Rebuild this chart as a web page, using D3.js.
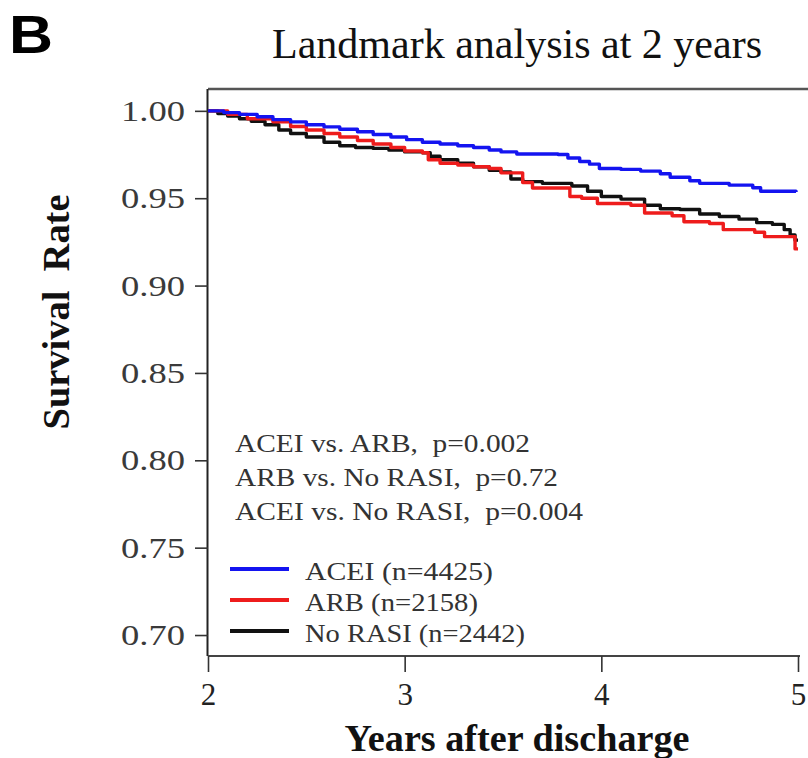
<!DOCTYPE html>
<html>
<head>
<meta charset="utf-8">
<script src="https://cdn.jsdelivr.net/npm/d3@7"></script>
<style>
  html, body { margin: 0; padding: 0; background: #fff; }
  svg { display: block; }
</style>
</head>
<body>
<svg id="chart" width="808" height="758"></svg>
<script>
// Kaplan–Meier estimates after the 2-year landmark: [years after discharge, survival]
const acei = [
  [2.00, 1.000], [2.08, 0.999], [2.16, 0.998], [2.25, 0.9966], [2.33, 0.995], [2.42, 0.9937],
  [2.50, 0.992], [2.59, 0.9908], [2.67, 0.9895], [2.76, 0.988], [2.84, 0.9865], [2.93, 0.985],
  [3.01, 0.9835], [3.09, 0.982], [3.18, 0.981], [3.27, 0.980], [3.35, 0.979], [3.43, 0.9776],
  [3.49, 0.9765], [3.57, 0.9753], [3.78, 0.9750], [3.83, 0.9730], [3.89, 0.9710], [3.94, 0.9695],
  [3.99, 0.9670], [4.10, 0.9665], [4.20, 0.9655], [4.30, 0.9640], [4.35, 0.9620], [4.45, 0.9600],
  [4.50, 0.9585], [4.65, 0.9575], [4.77, 0.9560], [4.81, 0.9540], [4.99, 0.9535]
];
const arb = [
  [2.00, 1.000], [2.10, 0.998], [2.20, 0.9955], [2.33, 0.9937], [2.42, 0.991], [2.50, 0.989],
  [2.59, 0.987], [2.67, 0.985], [2.76, 0.983], [2.84, 0.981], [2.93, 0.979], [3.00, 0.977],
  [3.09, 0.976], [3.12, 0.972], [3.18, 0.970], [3.27, 0.969], [3.35, 0.968], [3.43, 0.967],
  [3.49, 0.9645], [3.60, 0.959], [3.65, 0.9558], [3.80, 0.9558], [3.84, 0.951], [3.90, 0.950],
  [3.98, 0.947], [4.15, 0.946], [4.22, 0.9415], [4.36, 0.940], [4.42, 0.9365], [4.55, 0.9355],
  [4.62, 0.932], [4.78, 0.9305], [4.83, 0.928], [4.98, 0.928], [4.985, 0.921], [5.00, 0.921]
];
const noRasi = [
  [2.00, 1.000], [2.05, 0.9985], [2.10, 0.997], [2.16, 0.9955], [2.22, 0.994], [2.29, 0.992],
  [2.36, 0.989], [2.42, 0.987], [2.50, 0.985], [2.59, 0.982], [2.67, 0.980], [2.75, 0.979],
  [2.84, 0.9785], [2.92, 0.9775], [3.00, 0.9765], [3.09, 0.976], [3.13, 0.974], [3.18, 0.972],
  [3.27, 0.970], [3.35, 0.968], [3.43, 0.966], [3.49, 0.965], [3.54, 0.961], [3.60, 0.9595],
  [3.70, 0.9585], [3.80, 0.9585], [3.85, 0.957], [3.93, 0.954], [4.00, 0.951], [4.10, 0.9495],
  [4.22, 0.946], [4.30, 0.944], [4.40, 0.9435], [4.50, 0.941], [4.60, 0.9395], [4.70, 0.938],
  [4.79, 0.936], [4.87, 0.935], [4.93, 0.932], [4.96, 0.929], [4.985, 0.926], [5.00, 0.926]
];

const seriesNames = ["ACEI (n=4425)", "ARB (n=2158)", "No RASI (n=2442)"];
const seriesColors = ["#1414f0", "#ee1c1c", "#111111"];
const xTicks = [2, 3, 4, 5];
const yTicks = [0.70, 0.75, 0.80, 0.85, 0.90, 0.95, 1.00];
const pValueLines = [
  "ACEI vs. ARB,  p=0.002",
  "ARB vs. No RASI,  p=0.72",
  "ACEI vs. No RASI,  p=0.004"
];

const svg = d3.select("#chart");
const serif = "'Liberation Serif', 'Times New Roman', serif";

// Plot frame
const plotLeft = 208, plotRight = 798, plotTop = 89, plotBottom = 656;
const x = d3.scaleLinear().domain([2, 5]).range([plotLeft, plotRight]);
const y = d3.scaleLinear().domain([0.688, 1.0125]).range([plotBottom, plotTop]);

// Panel letter and title
svg.append("text").attr("x", 9).attr("y", 53)
  .attr("font-family", "'Liberation Sans', Arial, sans-serif")
  .attr("font-weight", "bold").attr("font-size", 53).attr("fill", "#000")
  .attr("textLength", 44).attr("lengthAdjust", "spacingAndGlyphs")
  .text("B");

svg.append("text").attr("x", 272).attr("y", 58)
  .attr("font-family", serif).attr("font-size", 43).attr("fill", "#111")
  .attr("textLength", 490).attr("lengthAdjust", "spacingAndGlyphs")
  .text("Landmark analysis at 2 years");

// Top border of the box
svg.append("line").attr("x1", plotLeft).attr("x2", 808).attr("y1", plotTop).attr("y2", plotTop)
  .attr("stroke", "#555").attr("stroke-width", 2.5);

// Y axis
const yAxis = d3.axisLeft(y).tickValues(yTicks).tickSize(13).tickPadding(10)
  .tickFormat(d3.format(".2f"));
const gy = svg.append("g").attr("transform", `translate(${plotLeft},0)`).call(yAxis);
gy.select(".domain").attr("d", `M-0.5,${plotTop}V${plotBottom}`).attr("stroke", "#222").attr("stroke-width", 2);
gy.selectAll(".tick line").attr("stroke", "#333").attr("stroke-width", 1.6);
gy.selectAll(".tick text")
  .attr("font-family", serif).attr("font-size", 30).attr("fill", "#3a3a3a")
  .attr("textLength", 64).attr("lengthAdjust", "spacingAndGlyphs");

// X axis
const xAxis = d3.axisBottom(x).tickValues(xTicks).tickSize(16).tickPadding(11)
  .tickFormat(d3.format("d"));
const gx = svg.append("g").attr("transform", `translate(0,${plotBottom})`).call(xAxis);
gx.select(".domain").attr("d", `M${plotLeft},0H${plotRight + 2}`).attr("stroke", "#444").attr("stroke-width", 2);
gx.selectAll(".tick line").attr("stroke", "#333").attr("stroke-width", 1.6);
gx.selectAll(".tick text")
  .attr("font-family", serif).attr("font-size", 31).attr("fill", "#222");

// Axis titles
svg.append("text").attr("x", 517).attr("y", 751).attr("text-anchor", "middle")
  .attr("font-family", serif).attr("font-weight", "bold").attr("font-size", 38).attr("fill", "#111")
  .attr("textLength", 345).attr("lengthAdjust", "spacingAndGlyphs")
  .text("Years after discharge");

svg.append("text")
  .attr("transform", "translate(69,312) rotate(-90)")
  .attr("text-anchor", "middle")
  .attr("font-family", serif).attr("font-weight", "bold").attr("font-size", 38).attr("fill", "#111")
  .attr("textLength", 235).attr("lengthAdjust", "spacingAndGlyphs")
  .style("white-space", "pre")
  .text("Survival  Rate");

// Survival curves
const line = d3.line().x(d => x(d[0])).y(d => y(d[1])).curve(d3.curveStepAfter);
const series = [acei, arb, noRasi];
// black first, then red, then blue on top
[2, 1, 0].forEach(i => {
  svg.append("path").datum(series[i])
    .attr("d", line).attr("fill", "none")
    .attr("stroke", seriesColors[i]).attr("stroke-width", 3.4)
    .attr("stroke-linejoin", "round");
});

// Log-rank p-values
const pWidths = [295, 323, 348];
pValueLines.forEach((t, i) => {
  svg.append("text").attr("x", 235).attr("y", 452 + i * 34)
    .attr("font-family", serif).attr("font-size", 26).attr("fill", "#333")
    .attr("textLength", pWidths[i]).attr("lengthAdjust", "spacingAndGlyphs")
    .style("white-space", "pre")
    .text(t);
});

// Legend
const legWidths = [188, 173, 220];
seriesNames.forEach((name, i) => {
  const ly = 569 + i * 31;
  svg.append("line").attr("x1", 230).attr("x2", 289).attr("y1", ly).attr("y2", ly)
    .attr("stroke", seriesColors[i]).attr("stroke-width", 4);
  svg.append("text").attr("x", 305).attr("y", ly + 11)
    .attr("font-family", serif).attr("font-size", 26).attr("fill", "#333")
    .attr("textLength", legWidths[i]).attr("lengthAdjust", "spacingAndGlyphs")
    .text(name);
});
</script>
</body>
</html>
